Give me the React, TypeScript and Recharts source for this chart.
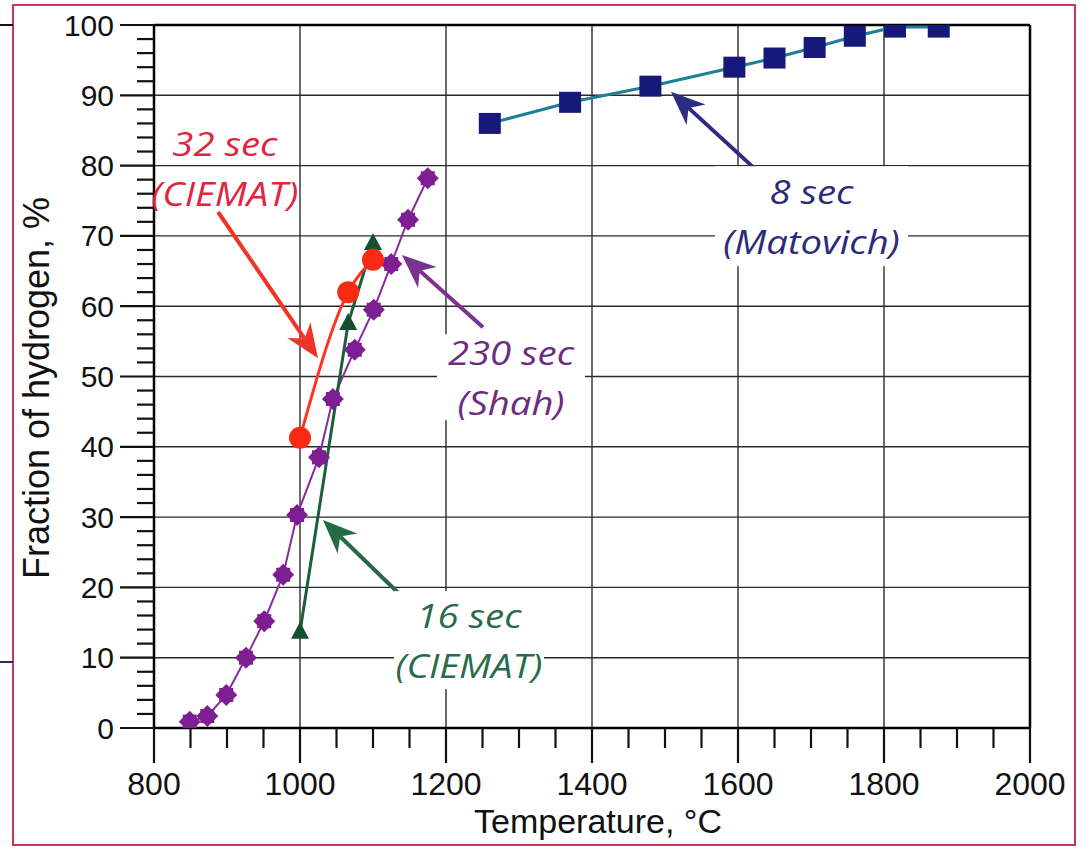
import React from 'react';
import {
  ComposedChart,
  Line,
  XAxis,
  YAxis,
  CartesianGrid,
  ReferenceLine,
  ReferenceDot,
} from 'recharts';

// temperature axis, °C
const xMajorTicks = [800, 1000, 1200, 1400, 1600, 1800, 2000];
const xAllTicks = [
  800, 850, 900, 950, 1000, 1050, 1100, 1150, 1200, 1250, 1300, 1350, 1400,
  1450, 1500, 1550, 1600, 1650, 1700, 1750, 1800, 1850, 1900, 1950, 2000,
];

// fraction of hydrogen axis, %
const yMajorTicks = [0, 10, 20, 30, 40, 50, 60, 70, 80, 90, 100];
const yAllTicks = [
  0, 2, 4, 6, 8, 10, 12, 14, 16, 18, 20, 22, 24, 26, 28, 30, 32, 34, 36, 38,
  40, 42, 44, 46, 48, 50, 52, 54, 56, 58, 60, 62, 64, 66, 68, 70, 72, 74, 76,
  78, 80, 82, 84, 86, 88, 90, 92, 94, 96, 98, 100,
];

// 8 sec (Matovich)
const matovichTemp = [1260, 1370, 1480, 1595, 1650, 1705, 1760, 1815, 1875];
const matovichH2 = [86, 89, 91.3, 94, 95.3, 96.8, 98.4, 99.7, 99.7];

// 230 sec (Shah)
const shahTemp = [849, 873, 899, 926, 951, 977, 996, 1026, 1045, 1075, 1101, 1125, 1148, 1175];
const shahH2 = [0.9, 1.7, 4.7, 10, 15.2, 21.8, 30.3, 38.5, 46.8, 53.8, 59.5, 66, 72.3, 78.2];

// 32 sec (CIEMAT)
const ciemat32Temp = [1000, 1066, 1100];
const ciemat32H2 = [41.3, 62, 66.6];

// 16 sec (CIEMAT)
const ciemat16Temp = [1000, 1066, 1100];
const ciemat16H2 = [13.7, 57.6, 69];

const toPoints = (temps: number[], h2: number[]) =>
  temps.map((t, i) => ({ t, h: h2[i] }));

const matovichData = toPoints(matovichTemp, matovichH2);
const shahData = toPoints(shahTemp, shahH2);
const ciemat32Data = toPoints(ciemat32Temp, ciemat32H2);
const ciemat16Data = toPoints(ciemat16Temp, ciemat16H2);

// callouts, placed in data units
const notes = [
  { key: 'c32', lines: ['32 sec', '(CIEMAT)'], t: 897, h: 79.6, color: '#e2243c', box: null as null | number[] },
  { key: 'shah', lines: ['230 sec', '(Shah)'], t: 1289, h: 49.9, color: '#6e2b80', box: [148, 86] },
  { key: 'c16', lines: ['16 sec', '(CIEMAT)'], t: 1231.5, h: 12.5, color: '#2a6b4c', box: [150, 98] },
  { key: 'mat', lines: ['8 sec', '(Matovich)'], t: 1700.7, h: 72.8, color: '#2b2b7c', box: [193, 100] },
];

const arrows = [
  { key: 'a32', from: [887.7, 73.4], to: [1024.7, 52.6], color: '#ee3526' },
  { key: 'ashah', from: [1250.7, 57.0], to: [1139.7, 67.3], color: '#7a3290' },
  { key: 'a16', from: [1161.6, 16.5], to: [1031.5, 29.6], color: '#256b48' },
  { key: 'amat', from: [1642.5, 77.7], to: [1508.2, 90.5], color: '#2c2c82' },
];

const tickFont = "'Liberation Sans', Arial, Helvetica, sans-serif";
const noteFont = "'Open Sans', 'DejaVu Sans', sans-serif";

const XTick = (props: any) => {
  const { x, y, payload } = props;
  const major = xMajorTicks.includes(payload.value);
  const len = major ? 35 : 20;
  return (
    <g>
      <line x1={x} y1={y} x2={x} y2={y + len} stroke="#111" strokeWidth={2.2} />
      {major && (
        <text x={x} y={y + len + 32} textAnchor="middle" fontSize={32} fontFamily={tickFont} fill="#111">
          {payload.value}
        </text>
      )}
    </g>
  );
};

const YTick = (props: any) => {
  const { x, y, payload } = props;
  const major = yMajorTicks.includes(payload.value);
  const len = major ? 34 : 17;
  return (
    <g>
      <line x1={x} y1={y} x2={x - len} y2={y} stroke="#111" strokeWidth={2.2} />
      {major && (
        <text x={x - len - 6} y={y} textAnchor="end" dominantBaseline="central" fontSize={30} fontFamily={tickFont} fill="#111">
          {payload.value}
        </text>
      )}
    </g>
  );
};

const XTitle = () => (
  <text x={598} y={833} textAnchor="middle" fontSize={34} fontFamily={tickFont} fill="#111">
    Temperature, °C
  </text>
);

const YTitle = () => (
  <text x={36} y={388} transform="rotate(-90 36 388)" textAnchor="middle" dominantBaseline="central" fontSize={36} fontFamily={tickFont} fill="#111">
    Fraction of hydrogen, %
  </text>
);

const squareDot = (p: any) =>
  p.cx == null ? <g key={p.index} /> : (
    <rect key={p.index} x={p.cx - 11} y={p.cy - 10.5} width={22} height={21} fill="#16187a" />
  );

const diamondDot = (p: any) => {
  if (p.cx == null) return <g key={p.index} />;
  const { cx, cy } = p;
  return (
    <g key={p.index}>
      <polygon points={`${cx},${cy - 11} ${cx + 11},${cy} ${cx},${cy + 11} ${cx - 11},${cy}`} fill="#7d1f92" />
      <rect x={cx - 7} y={cy - 7} width={14} height={14} fill="#7d1f92" />
    </g>
  );
};

const circleDot = (p: any) =>
  p.cx == null ? <g key={p.index} /> : <circle key={p.index} cx={p.cx} cy={p.cy} r={11} fill="#fb2a12" />;

const triangleDot = (p: any) =>
  p.cx == null ? <g key={p.index} /> : (
    <polygon key={p.index} points={`${p.cx},${p.cy - 10} ${p.cx + 9},${p.cy + 7} ${p.cx - 9},${p.cy + 7}`} fill="#12502e" />
  );

const arrowShape = (color: string) => (p: any) => {
  const { x1, y1, x2, y2 } = p;
  const ang = Math.atan2(y2 - y1, x2 - x1);
  const c = Math.cos(ang);
  const s = Math.sin(ang);
  const L = 34;
  const W = 14;
  const bx = x2 - L * c;
  const by = y2 - L * s;
  const nx = x2 - L * 0.7 * c;
  const ny = y2 - L * 0.7 * s;
  return (
    <g>
      <line x1={x1} y1={y1} x2={nx} y2={ny} stroke={color} strokeWidth={4} />
      <polygon
        points={`${x2},${y2} ${bx - s * W},${by + c * W} ${nx},${ny} ${bx + s * W},${by - c * W}`}
        fill={color}
      />
    </g>
  );
};

const noteShape = (note: (typeof notes)[number]) => (p: any) => {
  const { cx, cy } = p;
  // the source lettering is wider than Open Sans, so stretch it a little
  const stretch = `translate(${cx} 0) scale(1.16 1) translate(${-cx} 0)`;
  return (
    <g>
      {note.box && (
        <rect x={cx - note.box[0] / 2} y={cy - note.box[1] / 2} width={note.box[0]} height={note.box[1]} fill="#fff" />
      )}
      {note.lines.map((ln, i) => (
        <text
          key={ln}
          x={cx}
          y={cy + (i === 0 ? -25 : 25)}
          transform={stretch}
          textAnchor="middle"
          dominantBaseline="central"
          fontSize={33}
          fontStyle="italic"
          fontFamily={noteFont}
          fill={note.color}
        >
          {ln}
        </text>
      ))}
    </g>
  );
};

export default function App() {
  return (
    <div style={{ position: 'absolute', left: 0, top: 0, width: 1081, height: 848, background: '#fff' }}>
      {/* scan leftovers around the figure */}
      <div style={{ position: 'absolute', left: 12, top: 4, width: 1060, height: 838, border: '2.5px solid #c8385a' }} />
      <div style={{ position: 'absolute', left: 0, top: 24, width: 13, height: 2, background: '#111' }} />
      <div style={{ position: 'absolute', left: 0, top: 661, width: 13, height: 2, background: '#2a2a6a' }} />
      <div style={{ position: 'absolute', left: 0, top: 0 }}>
        <ComposedChart width={1081} height={848} margin={{ top: 25, right: 51, bottom: 0, left: 0 }}>
          <CartesianGrid
            horizontalValues={yMajorTicks}
            verticalValues={xMajorTicks}
            stroke="#2b2b2b"
            strokeWidth={1.4}
          />
          <XAxis
            type="number"
            dataKey="t"
            domain={[800, 2000]}
            ticks={xAllTicks}
            interval={0}
            height={120}
            allowDataOverflow
            tickLine={false}
            tickSize={0}
            tickMargin={0}
            tick={(p: any) => <XTick {...p} />}
            axisLine={{ stroke: '#000', strokeWidth: 2.5 }}
            label={<XTitle />}
          />
          <YAxis
            type="number"
            domain={[0, 100]}
            ticks={yAllTicks}
            interval={0}
            width={154}
            allowDataOverflow
            tickLine={false}
            tickSize={0}
            tickMargin={0}
            tick={(p: any) => <YTick {...p} />}
            axisLine={{ stroke: '#000', strokeWidth: 2.5 }}
            label={<YTitle />}
          />
          <ReferenceLine y={100} stroke="#000" strokeWidth={2.5} />
          <ReferenceLine x={2000} stroke="#000" strokeWidth={2.5} />

          {notes.map((n) => (
            <ReferenceDot key={n.key} x={n.t} y={n.h} r={0} ifOverflow="visible" shape={noteShape(n)} />
          ))}
          {arrows.map((a) => (
            <ReferenceLine
              key={a.key}
              segment={[
                { x: a.from[0], y: a.from[1] },
                { x: a.to[0], y: a.to[1] },
              ]}
              ifOverflow="visible"
              shape={arrowShape(a.color)}
            />
          ))}

          <Line
            data={matovichData}
            dataKey="h"
            type="linear"
            stroke="#1f7f95"
            strokeWidth={3}
            dot={squareDot}
            activeDot={false}
            isAnimationActive={false}
          />
          <Line
            data={shahData}
            dataKey="h"
            type="linear"
            stroke="#8a2aa0"
            strokeWidth={2}
            dot={diamondDot}
            activeDot={false}
            isAnimationActive={false}
          />
          <Line
            data={ciemat16Data}
            dataKey="h"
            type="linear"
            stroke="#1b5e3c"
            strokeWidth={3}
            dot={triangleDot}
            activeDot={false}
            isAnimationActive={false}
          />
          <Line
            data={ciemat32Data}
            dataKey="h"
            type="monotone"
            stroke="#ff3322"
            strokeWidth={3}
            dot={circleDot}
            activeDot={false}
            isAnimationActive={false}
          />
        </ComposedChart>
      </div>
    </div>
  );
}
